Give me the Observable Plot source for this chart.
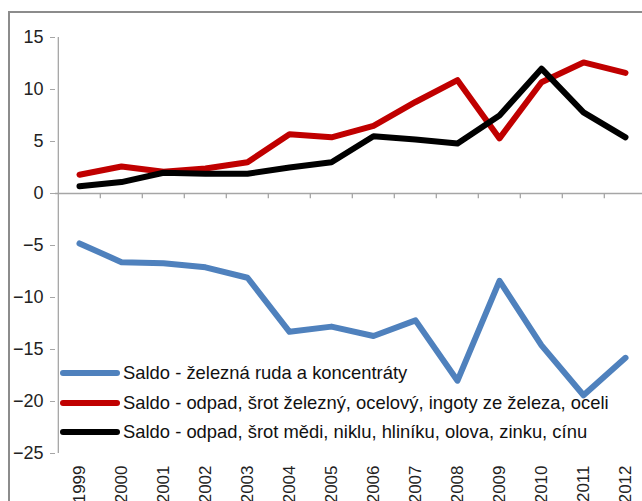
<!DOCTYPE html>
<html>
<head>
<meta charset="utf-8">
<script src="https://cdn.jsdelivr.net/npm/d3@7"></script>
<script src="https://cdn.jsdelivr.net/npm/@observablehq/plot@0.6"></script>
<style>
  html, body { margin: 0; padding: 0; background: #fff; }
  body { width: 642px; height: 501px; overflow: hidden; position: relative; font-family: "Liberation Sans", Arial, sans-serif; }
  #frame { position: absolute; left: 8px; top: 11px; width: 700px; height: 600px; border: 2px solid #8c8c8c; box-sizing: border-box; }
  #chart { position: absolute; left: 0; top: 0; width: 660px; }
  #chart svg { max-width: none !important; }
  #legend { position: absolute; left: 60px; top: 358.5px; font-size: 18.4px; color: #111; }
  #legend .row { height: 29.5px; display: flex; align-items: center; white-space: nowrap; }
  #legend svg { margin-right: 3px; }
</style>
</head>
<body>
<div id="frame"></div>
<div id="chart"></div>
<div id="legend"></div>
<script>
const years = ["1999","2000","2001","2002","2003","2004","2005","2006","2007","2008","2009","2010","2011","2012"];
const seriesNames = [
  "Saldo - železná ruda a koncentráty",
  "Saldo - odpad, šrot železný, ocelový, ingoty ze železa, oceli",
  "Saldo - odpad, šrot mědi, niklu, hliníku, olova, zinku, cínu"
];
const seriesColors = ["#4f81bd", "#c00000", "#000000"];
const ore   = [-4.8, -6.6, -6.7, -7.1, -8.1, -13.3, -12.8, -13.7, -12.2, -18.0, -8.4, -14.6, -19.4, -15.8];
const steel = [1.8, 2.6, 2.1, 2.4, 3.0, 5.7, 5.4, 6.5, 8.8, 10.9, 5.3, 10.7, 12.6, 11.6];
const metal = [0.7, 1.1, 2.0, 1.9, 1.9, 2.5, 3.0, 5.5, 5.2, 4.8, 7.5, 12.0, 7.8, 5.4];
const yTicks = [-25, -20, -15, -10, -5, 0, 5, 10, 15];

const seriesValues = [ore, steel, metal];
const rows = [];
seriesValues.forEach((vals, s) => vals.forEach((v, i) => rows.push({year: years[i], value: v, series: seriesNames[s]})));

const W = 660, ML = 55, MR = 12, MT = 37, MB = 48, H = 501;
const step = (W - ML - MR) / years.length;

const plot = Plot.plot({
  width: W,
  height: H,
  marginLeft: ML,
  marginRight: MR,
  marginTop: MT,
  marginBottom: MB,
  style: {fontFamily: "'Liberation Sans', Arial, sans-serif", background: "transparent", color: "#222", maxWidth: "none"},
  x: {type: "point", domain: years, padding: 0.5},
  y: {domain: [-25, 15]},
  color: {domain: seriesNames, range: seriesColors},
  marks: [
    Plot.ruleY([0], {stroke: "#a6a6a6", strokeWidth: 1.3}),
    Plot.ruleX(years.slice(1), {y1: 0, y2: -0.5, dx: -step / 2, stroke: "#a6a6a6", strokeWidth: 1.3}),
    Plot.ruleX([years[0]], {y1: -25, y2: 15, dx: -step / 2, stroke: "#a6a6a6", strokeWidth: 1.3}),
    Plot.axisY({ticks: yTicks, tickSize: 5, tickPadding: 7, fontSize: 18, stroke: "#a6a6a6", fill: "#222", label: null}),
    Plot.axisX({tickSize: 0, tickPadding: 12, tickRotate: -90, fontSize: 17, label: null, fill: "#222"}),
    Plot.line(rows, {x: "year", y: "value", z: "series", stroke: "series", strokeWidth: 6, strokeLinejoin: "round", strokeLinecap: "round"})
  ]
});
document.getElementById("chart").appendChild(plot);

const legend = document.getElementById("legend");
seriesNames.forEach((name, i) => {
  const row = document.createElement("div");
  row.className = "row";
  row.innerHTML = `<svg width="60" height="10"><line x1="3" y1="5" x2="57" y2="5" stroke="${seriesColors[i]}" stroke-width="6" stroke-linecap="round"/></svg><span>${name}</span>`;
  legend.appendChild(row);
});
</script>
</body>
</html>
